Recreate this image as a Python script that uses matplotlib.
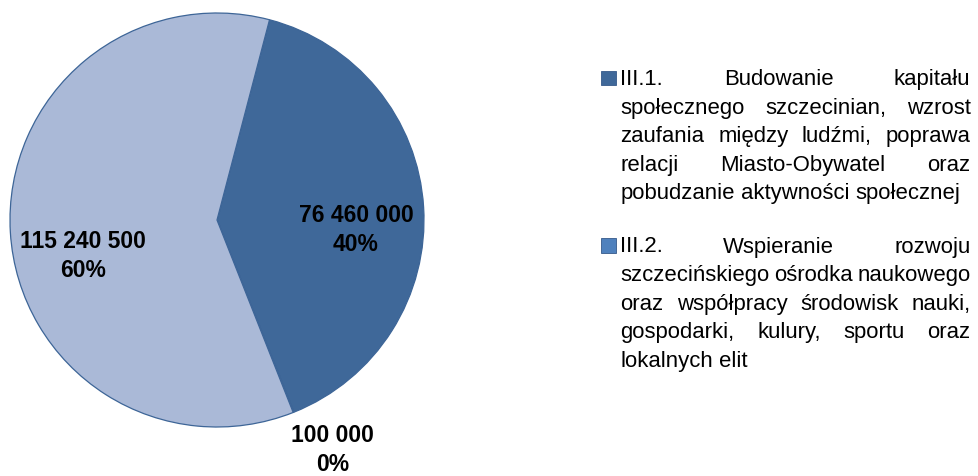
import matplotlib
matplotlib.use("Agg")
import matplotlib.pyplot as plt
from matplotlib import font_manager

# ---------------- data ----------------
values = [76460000, 100000, 115240500]
slice_colors = ["#3f6899", "#4f81bd", "#aab9d7"]
legend_labels = [
    "III.1. Budowanie kapitału\nspołecznego szczecinian, wzrost\nzaufania między ludźmi, poprawa\nrelacji Miasto-Obywatel oraz\npobudzanie aktywności społecznej",
    "III.2. Wspieranie rozwoju\nszczecińskiego ośrodka naukowego\noraz współpracy środowisk nauki,\ngospodarki, kulury, sportu oraz\nlokalnych elit",
]
legend_colors = ["#3f6899", "#4f81bd"]

# ---------------- fonts ----------------
def has_font(name):
    try:
        font_manager.findfont(font_manager.FontProperties(family=name), fallback_to_default=False)
        return True
    except Exception:
        return False

narrow = has_font("Liberation Sans Narrow")
label_family = ["Liberation Sans Narrow", "DejaVu Sans"] if narrow else ["Liberation Sans", "DejaVu Sans"]
label_size = 18.7 if narrow else 16.5
legend_family = ["Liberation Sans", "DejaVu Sans"]
legend_size = 15.9

W, H = 979, 476
fig = plt.figure(figsize=(W / 100, H / 100), dpi=100)
fig.patch.set_facecolor("white")

# ---------------- pie ----------------
cx, cy, r = 217, 220, 207
lim = 1.2
side = 2 * lim * r
ax = fig.add_axes([(cx - side / 2) / W, (H - cy - side / 2) / H, side / W, side / H])
wedges, _ = ax.pie(values, colors=slice_colors, startangle=75.3, counterclock=False,
                   radius=1.0,
                   wedgeprops=dict(edgecolor="#3d6597", linewidth=0.9))
ax.set_xlim(-lim, lim)
ax.set_ylim(-lim, lim)
ax.set_aspect("equal")
ax.axis("off")

total = sum(values)
label_pos = [(0.671, -0.048), (0.560, -1.111), (-0.647, -0.174)]
for v, (lx, ly) in zip(values, label_pos):
    txt = f"{v:,}".replace(",", " ") + "\n" + f"{round(v / total * 100):.0f}%"
    ax.text(lx, ly, txt, ha="center", va="center", multialignment="center",
            fontsize=label_size, fontweight="bold", family=label_family,
            color="black", linespacing=1.35, clip_on=False)

# ---------------- justified legend ----------------
renderer = fig.canvas.get_renderer()
L, R = 620.5, 970.5
line_h = 28.6
first_baselines = [85, 252.5]
sq = 14.5

def fx(px):
    return px / W

def fy(py):
    return 1 - py / H

# width of a normal space in the legend font
_m1 = fig.text(0, 0, "a a", fontsize=legend_size, family=legend_family)
_m2 = fig.text(0, 0, "aa", fontsize=legend_size, family=legend_family)
space_w = _m1.get_window_extent(renderer).width - _m2.get_window_extent(renderer).width
_m1.remove()
_m2.remove()

for label, col, base in zip(legend_labels, legend_colors, first_baselines):
    fig.patches.append(plt.Rectangle((fx(601), fy(base)), sq / W, sq / H,
                                     transform=fig.transFigure, facecolor=col,
                                     edgecolor="#35598a", linewidth=0.6))
    lines = label.split("\n")
    for i, line in enumerate(lines):
        y = base + i * line_h
        words = line.split(" ")
        texts = [fig.text(0, fy(y), w, fontsize=legend_size, family=legend_family,
                          ha="left", va="baseline", color="black") for w in words]
        widths = [t.get_window_extent(renderer).width for t in texts]
        last = (i == len(lines) - 1)
        if last or len(words) == 1:
            gap = space_w
        else:
            gap = (R - L - sum(widths)) / (len(words) - 1)
        x = L
        for t, wdt in zip(texts, widths):
            t.set_x(fx(x))
            x += wdt + gap

fig.savefig("out.png", dpi=100, facecolor="white")
